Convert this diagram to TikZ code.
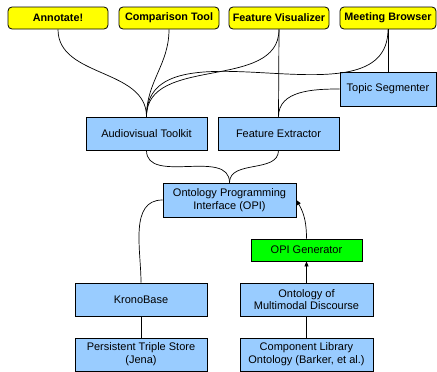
\documentclass[tikz,border=0pt]{standalone}
\usepackage{fontspec}
\setmainfont{Liberation Sans}
\usetikzlibrary{arrows.meta}
\definecolor{boxblue}{HTML}{99CCFF}
\definecolor{boxyellow}{HTML}{FFFF00}
\definecolor{boxgreen}{HTML}{00FF00}
\begin{document}
\begin{tikzpicture}[x=1pt,y=-1pt,
  base/.style={draw=black, line width=0.8pt, inner sep=0pt, align=center,
    font=\fontsize{11}{12.7}\selectfont},
  app/.style={base, fill=boxyellow, rounded corners=4pt, minimum height=22pt,
    font=\fontsize{10.8}{12.7}\selectfont\bfseries},
  comp/.style={base, fill=boxblue, minimum height=33pt},
  gen/.style={base, fill=boxgreen, minimum height=22pt},
  link/.style={draw=black, line width=0.7pt},
  arr/.style={link, -{Triangle[length=5pt,width=4pt]}}
]
\useasboundingbox (0,0) rectangle (437,372);

\node[app, minimum width=100pt] (ann) at (58,18) {Annotate!};
\node[app, minimum width=100pt] (cmp) at (169,18) {Comparison Tool};
\node[app, minimum width=100pt] (fv) at (279,18) {Feature Visualizer};
\node[app, minimum width=96pt] (mb) at (388,18) {Meeting Browser};

\node[comp, minimum width=96pt, minimum height=34pt] (ts) at (388,89) {Topic Segmenter};
\node[comp, minimum width=121pt] (av) at (146.5,133.5) {Audiovisual Toolkit};
\node[comp, minimum width=121pt] (fe) at (278.5,133.5) {Feature Extractor};
\node[comp, minimum width=133pt, minimum height=34pt] (opi) at (229.5,200) {Ontology Programming\\Interface (OPI)};
\node[gen, minimum width=111pt] (gen) at (306.5,250) {OPI Generator};
\node[comp, minimum width=132pt] (kb) at (141,299.5) {KronoBase};
\node[comp, minimum width=133pt] (omd) at (306.5,299.5) {Ontology of\\Multimodal Discourse};
\node[comp, minimum width=132pt] (pts) at (141,354.5) {Persistent Triple Store\\(Jena)};
\node[comp, minimum width=133pt] (clo) at (306.5,354.5) {Component Library\\Ontology (Barker, et al.)};

\draw[link] (ann.south) to[out=-90,in=90] (av.north);
\draw[link] (cmp.south) to[out=-90,in=90] (av.north);
\draw[link] (fv.south) to[out=-90,in=90] (av.north);
\draw[link] (mb.south) to[out=-90,in=90] (av.north);
\draw[link] (fv.south) -- (fe.north);
\draw[link] (mb.south) -- (ts.north);
\draw[link] (ts.west) to[out=180,in=90] (fe.north);
\draw[link] (av.south) to[out=-90,in=90] (opi.north);
\draw[link] (fe.south) to[out=-90,in=90] (opi.north);
\draw[link] (opi.west) to[out=180,in=90] (kb.north);
\draw[link] (kb.south) -- (pts.north);
\draw[link] (omd.south) -- (clo.north);
\draw[arr] (omd.north) -- (gen.south);
\draw[arr] (gen.north) to[out=90,in=-60] (opi.east);
\end{tikzpicture}
\end{document}
